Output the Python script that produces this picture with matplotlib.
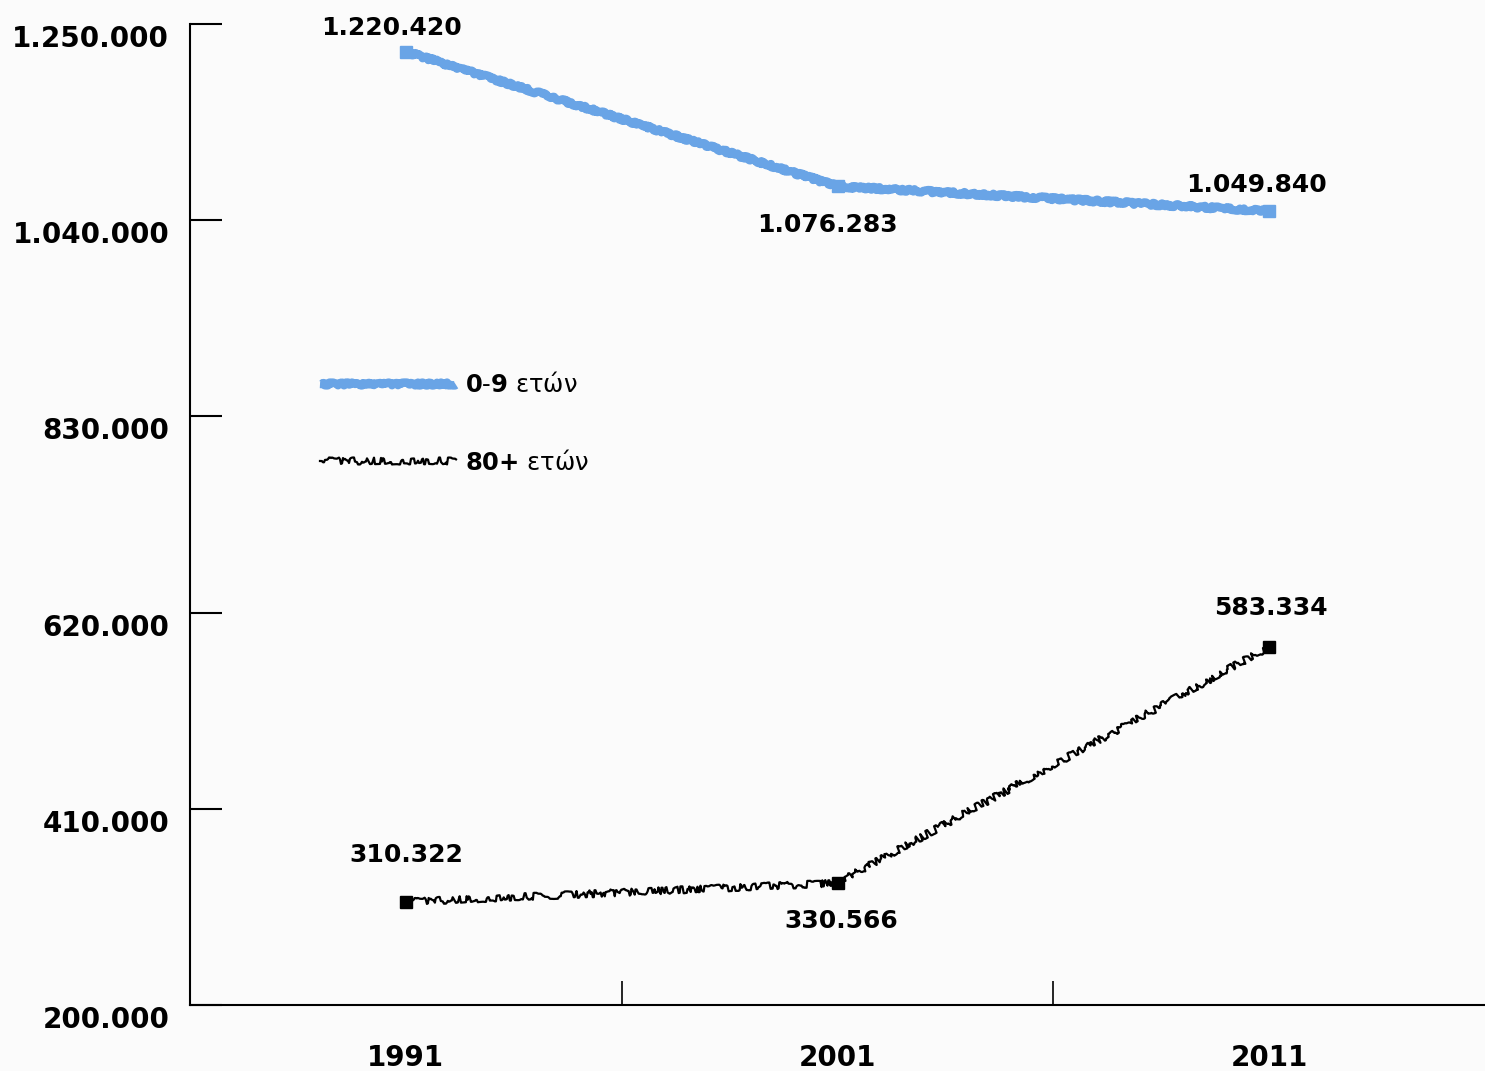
import matplotlib
matplotlib.use("Agg")
import matplotlib.pyplot as plt
import matplotlib.transforms as mtransforms
import numpy as np

years = ["1991", "2001", "2011"]
age_0_9 = [1220420, 1076283, 1049840]
age_80 = [310322, 330566, 583334]
yticks = [200000, 410000, 620000, 830000, 1040000, 1250000]
series_names = [r"$\mathbf{0}$-$\mathbf{9}$ ετών", r"$\mathbf{80{+}}$ ετών"]

def fmt(v):
    return f"{v:,}".replace(",", ".")

plt.rcParams['mathtext.fontset'] = 'dejavusans'
bg = '#fbfbfb'
fig = plt.figure(figsize=(14.85, 10.71), dpi=100, facecolor=bg)
ax = fig.add_axes([190/1485, 1 - 1005/1071, 1295/1485, (1005 - 24)/1071])
ax.set_facecolor(bg)

x = np.arange(len(years))
blue = '#69a4e6'
l1, = ax.plot(x, age_0_9, color=blue, lw=6, marker='s', markersize=9,
              label=series_names[0], solid_capstyle='butt')
l1.set_sketch_params(scale=1.5, length=8, randomness=20)
l2, = ax.plot(x, age_80, color='black', lw=1.6, marker='s', markersize=8,
              label=series_names[1])
l2.set_sketch_params(scale=3.5, length=25, randomness=40)

ax.set_xlim(-0.5, 2.5)
ax.set_ylim(200000, 1250000)
ax.set_yticks(yticks)
ax.set_yticklabels([fmt(v) for v in yticks], fontsize=20, fontweight='bold')
ax.tick_params(axis='y', direction='in', length=23, width=1.5, pad=15)
shift = mtransforms.ScaledTranslation(0, -0.12, fig.dpi_scale_trans)
for lab in ax.get_yticklabels():
    lab.set_transform(lab.get_transform() + shift)

ax.set_xticks([0.5, 1.5])
ax.set_xticklabels([])
ax.tick_params(axis='x', which='major', direction='in', length=17, width=1.2)
ax.set_xticks(x, minor=True)
ax.set_xticklabels(years, minor=True, fontsize=20, fontweight='bold')
ax.tick_params(axis='x', which='minor', length=0, pad=28)

for s in ['top', 'right']:
    ax.spines[s].set_visible(False)
ax.spines['left'].set_linewidth(1.5)
ax.spines['bottom'].set_linewidth(1.5)

# data labels
offs_blue = [(-10, 17), (-7, -28), (-9, 19)]
offs_black = [(0, 34), (3, -27), (1, 28)]
for i, v in enumerate(age_0_9):
    ax.annotate(fmt(v), (x[i], v), xytext=offs_blue[i], textcoords='offset points',
                ha='center', va='center', fontsize=18, fontweight='bold')
for i, v in enumerate(age_80):
    ax.annotate(fmt(v), (x[i], v), xytext=offs_black[i], textcoords='offset points',
                ha='center', va='center', fontsize=18, fontweight='bold')

leg = ax.legend(loc='upper left', bbox_to_anchor=(0.1, 0.645), frameon=False,
                fontsize=17.5, handlelength=5.6, handletextpad=0.4, labelspacing=2.15,
                borderpad=0, borderaxespad=0, numpoints=1, markerscale=0)
for h in leg.legend_handles:
    h.set_marker('None')

fig.savefig('out.png', dpi=100, facecolor=bg)
